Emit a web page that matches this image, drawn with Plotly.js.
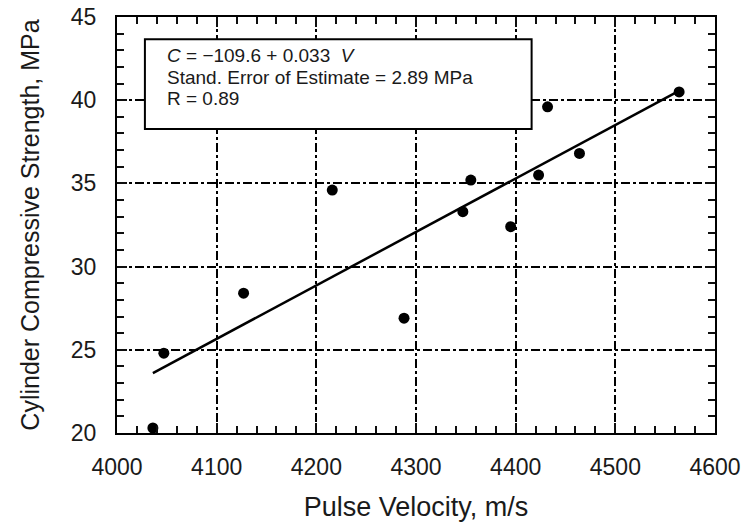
<!DOCTYPE html>
<html>
<head>
<meta charset="utf-8">
<script src="https://cdn.plot.ly/plotly-3.0.1.min.js"></script>
<style>html,body{margin:0;padding:0;background:#fff;}#chart{width:746px;height:524px;}</style>
</head>
<body>
<div id="chart"></div>
<script>
// Measured data: pulse velocity (m/s) and cylinder compressive strength (MPa)
const pulseVelocity = [4036, 4047, 4127, 4216, 4288, 4347, 4355, 4395, 4423, 4432, 4464, 4564];
const strength      = [20.3, 24.8, 28.4, 34.6, 26.9, 33.3, 35.2, 32.4, 35.5, 39.6, 36.8, 40.5];

// Regression line end points as drawn
const fitVelocity = [4036, 4562];
const fitStrength = [23.6, 40.5];

// Axis tick values
const xTicks = [4000, 4100, 4200, 4300, 4400, 4500, 4600];
const yTicks = [20, 25, 30, 35, 40, 45];
const xMinorStep = 20;
const yMinorStep = 1;

// Box text
const boxLines = ['<i>C</i> = \u2212109.6 + 0.033  <i>V</i>', 'Stand. Error of Estimate = 2.89 MPa', 'R = 0.89'];
const boxLineY = [42.70, 41.39, 40.10];

const font = 'Liberation Sans, Arial, Helvetica, sans-serif';
const xRange = [xTicks[0], xTicks[xTicks.length - 1]];
const yRange = [yTicks[0], yTicks[yTicks.length - 1]];

const traces = [
  {
    x: fitVelocity, y: fitStrength, type: 'scatter', mode: 'lines',
    line: {color: '#000', width: 2.5}, hoverinfo: 'skip', showlegend: false
  },
  {
    x: pulseVelocity, y: strength, type: 'scatter', mode: 'markers',
    marker: {color: '#000', size: 11, symbol: 'circle'}, showlegend: false, cliponaxis: false
  },
  // empty trace that carries the minor-tick axes
  {x: [], y: [], xaxis: 'x2', yaxis: 'y2', type: 'scatter', mode: 'markers', showlegend: false, hoverinfo: 'skip'}
];

const annotations = boxLines.map((t, i) => ({
  x: 4048, y: boxLineY[i], xref: 'x', yref: 'y', text: t, showarrow: false,
  xanchor: 'left', yanchor: 'middle', font: {family: font, size: 19, color: '#1a1a1a'}
}));

const axisCommon = {
  showline: true, linecolor: '#000', linewidth: 2, mirror: 'allticks',
  ticks: 'inside', ticklen: 10, tickwidth: 2, tickcolor: 'rgb(15,15,15)',
  showgrid: true, gridcolor: '#000', gridwidth: 1.5, griddash: 'dashdot',
  zeroline: false, tickfont: {family: font, size: 23, color: '#1a1a1a'}
};

const minorAxis = {
  showline: true, linecolor: '#000', linewidth: 1, mirror: 'allticks',
  ticks: 'inside', ticklen: 7, tickwidth: 2, tickcolor: 'rgb(15,15,15)',
  showgrid: false, zeroline: false, showticklabels: false, tickmode: 'linear'
};

const layout = {
  width: 746, height: 524,
  margin: {l: 117, r: 31, t: 17, b: 91},
  paper_bgcolor: '#fff', plot_bgcolor: '#fff',
  showlegend: false, dragmode: false,
  xaxis: Object.assign({}, axisCommon, {
    range: xRange, tickmode: 'linear', tick0: xRange[0], dtick: xTicks[1] - xTicks[0],
    ticklabelstandoff: 12,
    minor: {tickmode: 'linear', tick0: xRange[0], dtick: xMinorStep, ticks: 'inside', ticklen: 7, tickwidth: 2, tickcolor: 'rgb(15,15,15)', showgrid: false},
    title: {text: 'Pulse Velocity, m/s', font: {family: font, size: 27, color: '#1a1a1a'}, standoff: 19}
  }),
  yaxis: Object.assign({}, axisCommon, {
    range: yRange, tickmode: 'linear', tick0: yRange[0], dtick: yTicks[1] - yTicks[0],
    ticklabelstandoff: 14,
    minor: {tickmode: 'linear', tick0: yRange[0], dtick: yMinorStep, ticks: 'inside', ticklen: 7, tickwidth: 2, tickcolor: 'rgb(15,15,15)', showgrid: false},
    title: {text: 'Cylinder Compressive Strength, MPa', font: {family: font, size: 25, color: '#1a1a1a'}, standoff: 24}
  }),
  xaxis2: Object.assign({}, minorAxis, {overlaying: 'x', anchor: 'y2', side: 'bottom', range: xRange, tick0: xRange[0], dtick: xMinorStep}),
  yaxis2: Object.assign({}, minorAxis, {overlaying: 'y', anchor: 'x2', side: 'left', range: yRange, tick0: yRange[0], dtick: yMinorStep}),
  shapes: [{
    type: 'rect', xref: 'x', yref: 'y', x0: 4028, x1: 4416, y0: 38.27, y1: 43.66,
    line: {color: '#000', width: 2}, fillcolor: '#fff', layer: 'above'
  }],
  annotations: annotations
};

Plotly.newPlot('chart', traces, layout, {displayModeBar: false});
</script>
</body>
</html>
